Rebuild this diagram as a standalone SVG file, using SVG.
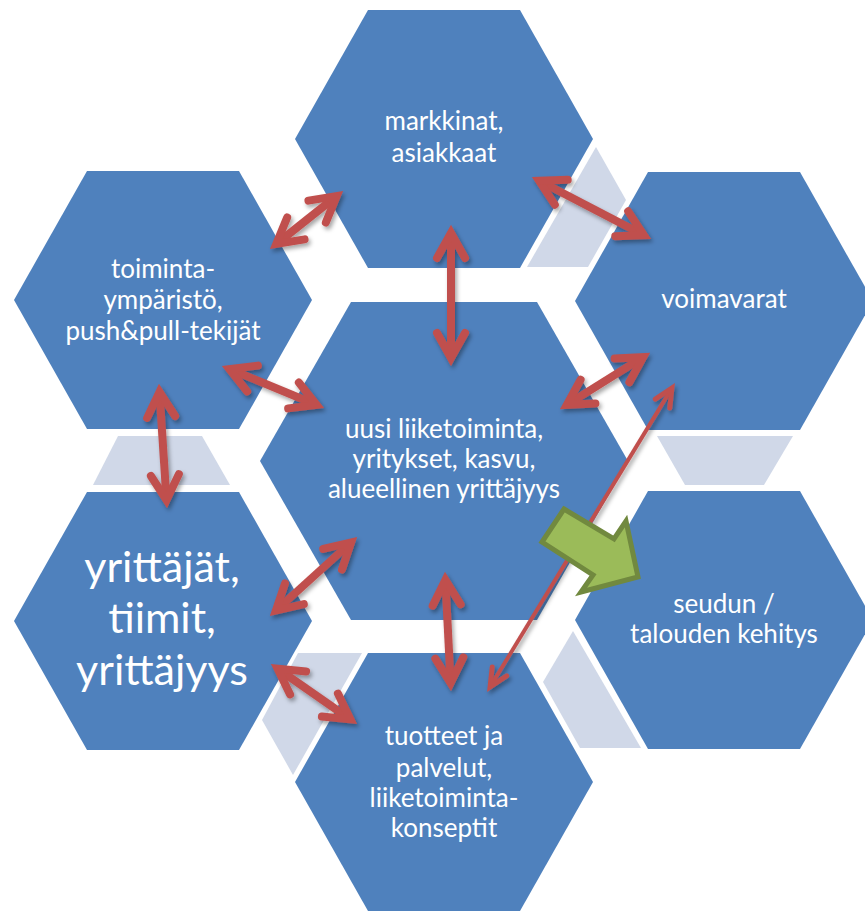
<svg xmlns="http://www.w3.org/2000/svg" width="865" height="911" viewBox="0 0 865 911">
<defs>
<style>
.hex{fill:#4F81BD;}
.grey{fill:#D0D8E8;}
.t{fill:#FFFFFF;font-family:Lato,'Open Sans',sans-serif;font-size:26px;text-anchor:middle;}
.big{font-size:43px;}
.arr{fill:none;stroke:#C0504D;stroke-width:8;marker-start:url(#ah);marker-end:url(#ah);filter:url(#sh);}
.thin{fill:none;stroke:#C0504D;stroke-width:4;marker-start:url(#ahs);marker-end:url(#ahs);filter:url(#sh);}
</style>
<filter id="sh" filterUnits="userSpaceOnUse" x="0" y="0" width="865" height="911">
<feDropShadow dx="2" dy="3" stdDeviation="2" flood-color="#000" flood-opacity="0.35"/>
</filter>
<marker id="ah" viewBox="-40 -25 55 50" refX="0" refY="0" markerWidth="55" markerHeight="50" markerUnits="userSpaceOnUse" orient="auto-start-reverse">
<path d="M-25,-14 L0,0 L-25,14" fill="none" stroke="#C0504D" stroke-width="8" stroke-linecap="round" stroke-linejoin="miter" stroke-miterlimit="10"/>
</marker>
<marker id="ahs" viewBox="-30 -20 40 40" refX="0" refY="0" markerWidth="40" markerHeight="40" markerUnits="userSpaceOnUse" orient="auto-start-reverse">
<path d="M-18,-8.5 L0,0 L-18,8.5" fill="none" stroke="#C0504D" stroke-width="5" stroke-linecap="round" stroke-linejoin="miter" stroke-miterlimit="10"/>
</marker>
</defs>
<rect width="865" height="911" fill="#FFFFFF"/>

<g id="connector-shapes">
<polygon class="grey" points="596,147 626,200 588,267 527,267"/>
<polygon class="grey" points="657,436 793,436 764,485 685,485"/>
<polygon class="grey" points="573,631 641,748 580,748 543,682"/>
<polygon class="grey" points="298,653 362,653 293,775 262,720"/>
<polygon class="grey" points="118,436 202,436 230,485 93,485"/>
</g>

<g id="markkinat">
<polygon class="hex" points="368,10 520,10 593,139 520,268 368,268 295,139"/>
<text class="t" x="444" y="130">markkinat,</text>
<text class="t" x="444" y="162">asiakkaat</text>
</g>

<g id="voimavarat">
<polygon class="hex" points="648,172 800,172 873,301 800,430 648,430 575,301"/>
<text class="t" x="724" y="308">voimavarat</text>
</g>

<g id="toimintaymparisto">
<polygon class="hex" points="87,171 239,171 312,300 239,429 87,429 14,300"/>
<text class="t" x="163" y="278">toiminta-</text>
<text class="t" x="163" y="309">ympäristö,</text>
<text class="t" x="163" y="340">push&amp;pull-tekijät</text>
</g>

<g id="uusi-liiketoiminta">
<polygon class="hex" points="351,302 537,302 628,461 537,620 351,620 260,461"/>
<text class="t" x="444" y="438">uusi liiketoiminta,</text>
<text class="t" x="444" y="468">yritykset, kasvu,</text>
<text class="t" x="444" y="498">alueellinen yrittäjyys</text>
</g>

<g id="yrittajat">
<polygon class="hex" points="87,492 239,492 312,621 239,750 87,750 14,621"/>
<text class="t big" x="162" y="582">yrittäjät,</text>
<text class="t big" x="162" y="633">tiimit,</text>
<text class="t big" x="162" y="685">yrittäjyys</text>
</g>

<g id="seudun-kehitys">
<polygon class="hex" points="648,491 800,491 873,620 800,749 648,749 575,620"/>
<text class="t" x="724" y="613">seudun /</text>
<text class="t" x="724" y="643">talouden kehitys</text>
</g>

<g id="tuotteet">
<polygon class="hex" points="368,653 520,653 593,782 520,911 368,911 295,782"/>
<text class="t" x="444" y="745">tuotteet ja</text>
<text class="t" x="444" y="777">palvelut,</text>
<text class="t" x="444" y="807">liiketoiminta-</text>
<text class="t" x="444" y="837">konseptit</text>
</g>

<g id="connectors">
<path class="arr" d="M336.7,196 L276.3,244"/>
<path class="arr" d="M539.1,180.7 L643.9,235.3"/>
<path class="arr" d="M451,233 L451,358"/>
<path class="arr" d="M229.4,369 L316.6,405"/>
<path class="arr" d="M643.2,357.2 L566.8,404.8"/>
<path class="arr" d="M159.5,392 L166.5,500"/>
<path class="arr" d="M351.1,542.4 L275.9,610.6"/>
<path class="arr" d="M277.6,668.6 L350.4,719.4"/>
<path class="arr" d="M445.4,580 L450.6,683"/>
<path class="thin" d="M671.9,388.1 L490.1,686.9"/>
</g>

<g id="green-arrow">
<polygon points="564,509 614,539 626,521 638,577 581,592 593,575 542,542" fill="#9BBB59" stroke="#71893F" stroke-width="5" stroke-linejoin="miter"/>
</g>
</svg>
